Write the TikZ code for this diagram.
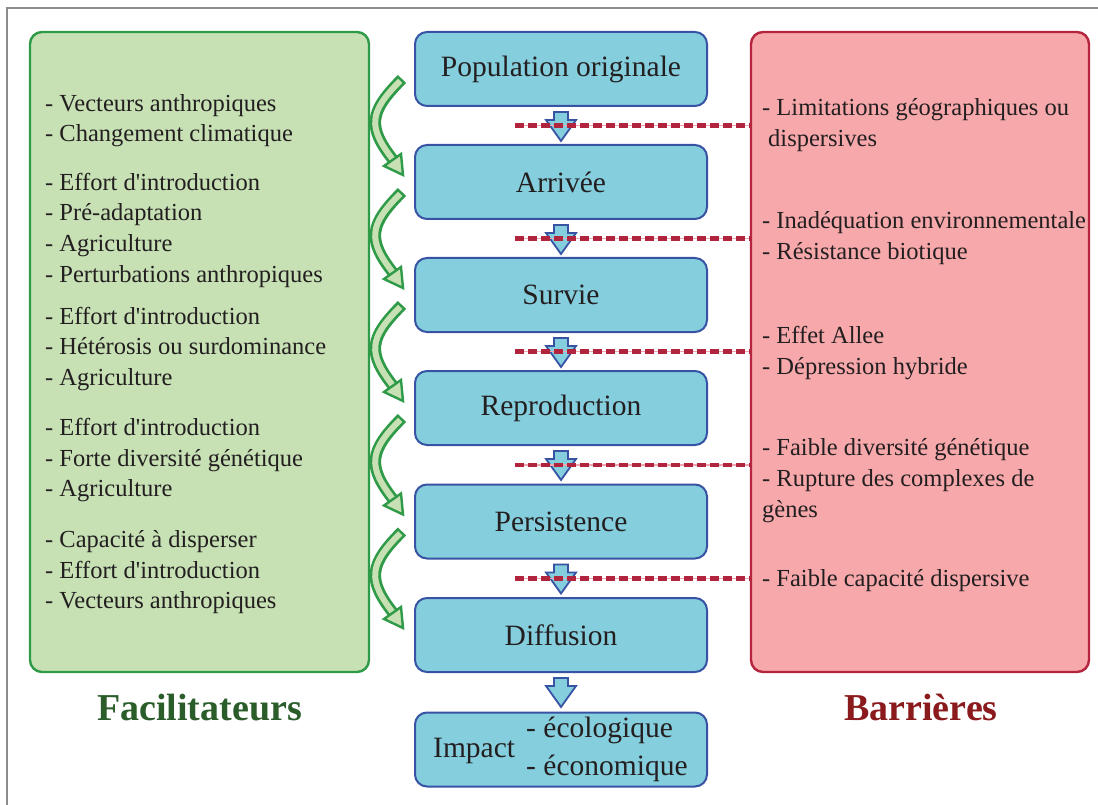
\documentclass[tikz,border=0pt]{standalone}
\usepackage{fontspec}
\setmainfont{Liberation Serif}[Ligatures=TeXOff]
\usetikzlibrary{calc}
\definecolor{gfill}{HTML}{C7E1B5}
\definecolor{gline}{HTML}{2F9A47}
\definecolor{rfill}{HTML}{F6A8AB}
\definecolor{rline}{HTML}{B5253F}
\definecolor{bfill}{HTML}{85CEDD}
\definecolor{bline}{HTML}{3853A4}
\definecolor{dashc}{HTML}{B0243E}
\definecolor{pinkc}{HTML}{F2A7B0}
\definecolor{tgreen}{HTML}{2B5D2A}
\definecolor{tred}{HTML}{8B1A1D}
\definecolor{txt}{HTML}{231F20}
\begin{document}
\begin{tikzpicture}[x=1pt,y=-1pt,
  frameline/.style={draw=gray!90, line width=1.3pt},
  gbox/.style={draw=gline, fill=gfill, line width=2.4pt, rounded corners=12pt, minimum width=339pt, minimum height=640pt, inner sep=0pt},
  rbox/.style={draw=rline, fill=rfill, line width=2.4pt, rounded corners=12pt, minimum width=338pt, minimum height=640pt, inner sep=0pt},
  bbox/.style={draw=bline, fill=bfill, line width=2pt, rounded corners=12pt, minimum width=292pt, minimum height=74pt, inner sep=0pt, text=txt, font=\fontsize{29.5}{34}\selectfont},
  lt/.style={anchor=base west, inner sep=0pt, text=txt, font=\fontsize{24.5}{30}\selectfont},
  it/.style={anchor=base west, inner sep=0pt, text=txt, font=\fontsize{29.5}{34}\selectfont},
  ttl/.style={anchor=base, inner sep=0pt, font=\fontsize{38}{42}\selectfont\bfseries},
  sarrow/.style={draw=bline, fill=bfill, line width=1.8pt, line join=miter},
  pinkline/.style={draw=pinkc, line width=1.5pt},
  dashline/.style={draw=dashc, line width=4.5pt, dash pattern=on 8.5pt off 4.5pt},
  gout/.style={draw=gline, line width=11.5pt},
  gin/.style={draw=gfill, line width=6pt, shorten <=2.5pt},
  ghead/.style={draw=gline, fill=gfill, line width=2.4pt, line join=miter}
]
\useasboundingbox (0,0) rectangle (1098,805);
\fill[white] (0,0) rectangle (1098,805);
\draw[frameline] (7,805) -- (7,8) -- (1098,8);

% side panels
\node[gbox] (fac) at (199.5,352) {};
\node[rbox] (bar) at (920,352) {};

% central stages
\node[bbox] (b1) at (561,69) {Population originale};
\node[bbox] (b2) at (561,182) {Arrivée};
\node[bbox] (b3) at (561,295) {Survie};
\node[bbox] (b4) at (561,408) {Reproduction};
\node[bbox] (b5) at (561,521.5) {Persistence};
\node[bbox] (b6) at (561,635) {Diffusion};
\node[bbox] (b7) at (561,749.5) {};
\node[it] (imp) at (433,757) {Impact};
\node[it] (eco1) at (526,737) {- écologique};
\node[it] (eco2) at (526,775) {- économique};

% small down arrows
\foreach \i/\j in {1/2,2/3,3/4,4/5,5/6,6/7}{
  \draw[sarrow] ($(b\i.south)+(-7,5)$) -- ++(14,0) -- ++(0,8) -- ++(8,0) -- ++(-15,21) -- ++(-15,-21) -- ++(8,0) -- cycle;
}

% dashed barrier lines
\coordinate (xs) at (515,0);
\foreach \i/\j in {1/2,2/3,3/4,4/5,5/6}{
  \path (b\i.south) -- (b\j.north) coordinate[pos=.5] (m\i);
  \draw[pinkline] (xs |- m\i) -- (bar.west |- m\i);
  \draw[dashline] (xs |- m\i) -- (bar.west |- m\i);
}

% curved green arrows
\foreach \i/\j in {1/2,2/3,3/4,4/5,5/6}{
  \draw[gout] ($(b\i.north west)+(-12,48)$) .. controls ($(b\i.north west)+(-45,81)$) and ($(b\j.north west)+(-47,-17)$) .. ($(b\j.north west)+(-20,17)$);
  \draw[gin] ($(b\i.north west)+(-12,48)$) .. controls ($(b\i.north west)+(-45,81)$) and ($(b\j.north west)+(-47,-17)$) .. ($(b\j.north west)+(-20,17)$);
  \draw[ghead] ($(b\j.north west)+(-30,22)$) -- ($(b\j.north west)+(-13,10)$) -- ($(b\j.north west)+(-11,31)$) -- cycle;
}

% facilitators
\foreach \y/\t [count=\k] in {
  112/- Vecteurs anthropiques,
  142/- Changement climatique,
  191/- Effort d'introduction,
  221/- Pré-adaptation,
  252/- Agriculture,
  282/- Perturbations anthropiques,
  324/- Effort d'introduction,
  354/- Hétérosis ou surdominance,
  385/- Agriculture,
  435/- Effort d'introduction,
  466/- Forte diversité génétique,
  496/- Agriculture,
  547/- Capacité à disperser,
  578/- Effort d'introduction,
  608/- Vecteurs anthropiques}{
  \node[lt] (f\k) at (45,\y) {\t};
}

% barriers
\foreach \x/\y/\t [count=\k] in {
  762/116/- Limitations géographiques ou,
  768/147/dispersives,
  762/229/- Inadéquation environnementale,
  762/260/- Résistance biotique,
  762/343/- Effet Allee,
  762/374/- Dépression hybride,
  762/455/- Faible diversité génétique,
  762/486/- Rupture des complexes de,
  762/517/gènes,
  762/586/- Faible capacité dispersive}{
  \node[lt] (r\k) at (\x,\y) {\t};
}

% titles
\node[ttl, text=tgreen] (tf) at (199.5,720) {Facilitateurs};
\node[ttl, text=tred] (tb) at (921,720) {Barrières};
\end{tikzpicture}
\end{document}
